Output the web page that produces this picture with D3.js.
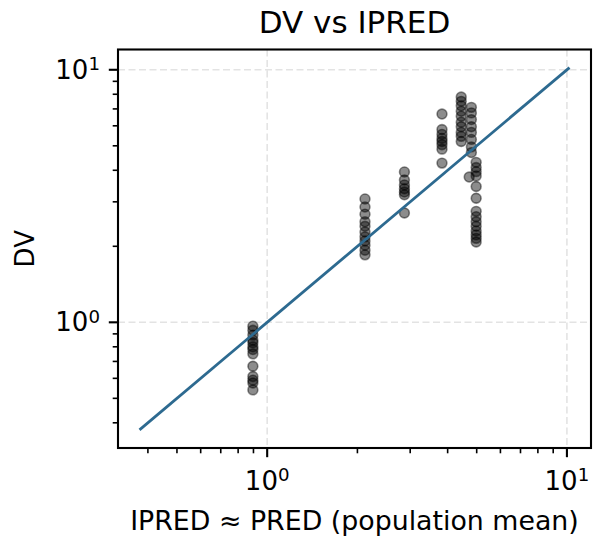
<!DOCTYPE html>
<html>
<head>
<meta charset="utf-8">
<script src="https://cdn.jsdelivr.net/npm/d3@7"></script>
<style>
  body { margin: 0; background: #fff; }
  svg { display: block; font-family: "DejaVu Sans", sans-serif; }
</style>
</head>
<body>
<div id="chart"></div>
<script>
const ipred = [
  0.896, 0.896, 0.896, 0.896, 0.896, 0.896, 0.896, 0.896, 0.896, 0.896, 0.896, 0.896, 0.896,
  2.12, 2.12, 2.12, 2.12, 2.12, 2.12, 2.12, 2.12, 2.12, 2.12, 2.12,
  2.87, 2.87, 2.87, 2.87, 2.87, 2.87, 2.87,
  3.83, 3.83, 3.83, 3.83, 3.83, 3.83, 3.83, 3.83,
  4.44, 4.44, 4.44, 4.44, 4.44, 4.44, 4.44, 4.44, 4.44, 4.44,
  4.80, 4.80, 4.80, 4.80, 4.80, 4.80, 4.80, 4.80, 4.72,
  4.98, 4.98, 4.98, 4.98, 4.98, 4.98, 4.98, 4.98, 4.98, 4.98, 4.98, 4.98, 4.98, 4.98
];
const dv = [
  0.965, 0.93, 0.89, 0.85, 0.83, 0.80, 0.78, 0.75, 0.67, 0.61, 0.59, 0.575, 0.54,
  3.08, 2.86, 2.68, 2.50, 2.40, 2.28, 2.18, 2.10, 2.02, 1.93, 1.85,
  3.94, 3.66, 3.50, 3.38, 3.28, 3.20, 2.71,
  6.68, 5.80, 5.55, 5.35, 5.20, 5.05, 4.85, 4.27,
  7.80, 7.50, 7.20, 6.85, 6.55, 6.20, 5.95, 5.65, 5.45, 5.20,
  7.10, 6.75, 6.35, 5.95, 5.65, 5.30, 4.95, 4.70, 3.76,
  4.30, 4.10, 3.95, 3.80, 3.45, 3.10, 2.75, 2.62, 2.50, 2.40, 2.30, 2.22, 2.15, 2.08
];
// identity reference line end points
const identityLine = [0.375, 10.2];
const majorTicks = [1, 10];
const majorLabels = ["0", "1"];  // exponents of 10

const width = 598, height = 543;
const box = { left: 118, right: 591, top: 49.5, bottom: 448 };

// log domain with matplotlib's 5% margin around the line
const lo = Math.log10(identityLine[0]), hi = Math.log10(identityLine[1]);
const pad = (hi - lo) * 0.05;
const domain = [Math.pow(10, lo - pad), Math.pow(10, hi + pad)];

const x = d3.scaleLog().domain(domain).range([box.left, box.right]);
const y = d3.scaleLog().domain(domain).range([box.bottom, box.top]);

const svg = d3.select("#chart").append("svg")
  .attr("width", width)
  .attr("height", height);

// minor ticks 2..9 x 10^k inside the domain
const minorTicks = [];
for (let k = -1; k <= 1; k++) {
  for (let m = 2; m <= 9; m++) {
    const v = m * Math.pow(10, k);
    if (v >= domain[0] && v <= domain[1]) minorTicks.push(v);
  }
}

// grid
const grid = svg.append("g")
  .attr("stroke", "#b0b0b0")
  .attr("stroke-opacity", 0.35)
  .attr("stroke-width", 1.6)
  .attr("stroke-dasharray", "7,3.5");
grid.selectAll(".gx").data(majorTicks).join("line")
  .attr("x1", d => x(d)).attr("x2", d => x(d))
  .attr("y1", box.top).attr("y2", box.bottom);
grid.selectAll(".gy").data(majorTicks).join("line")
  .attr("y1", d => y(d)).attr("y2", d => y(d))
  .attr("x1", box.left).attr("x2", box.right);

// points
svg.append("g")
  .selectAll("circle")
  .data(ipred.map((v, i) => [v, dv[i]]))
  .join("circle")
  .attr("cx", d => x(d[0]))
  .attr("cy", d => y(d[1]))
  .attr("r", 4.9)
  .attr("fill", "#000")
  .attr("fill-opacity", 0.45)
  .attr("stroke", "#000")
  .attr("stroke-opacity", 0.45)
  .attr("stroke-width", 1.6);

// identity line
svg.append("line")
  .attr("x1", x(identityLine[0])).attr("y1", y(identityLine[0]))
  .attr("x2", x(identityLine[1])).attr("y2", y(identityLine[1]))
  .attr("stroke", "#2d6a90")
  .attr("stroke-width", 2.8);

// frame
svg.append("rect")
  .attr("x", box.left).attr("y", box.top)
  .attr("width", box.right - box.left)
  .attr("height", box.bottom - box.top)
  .attr("fill", "none")
  .attr("stroke", "#000")
  .attr("stroke-width", 2.1);

// ticks
const tk = svg.append("g").attr("stroke", "#000");
tk.selectAll(".xmaj").data(majorTicks).join("line")
  .attr("x1", d => x(d)).attr("x2", d => x(d))
  .attr("y1", box.bottom).attr("y2", box.bottom + 9.2)
  .attr("stroke-width", 2.1);
tk.selectAll(".xmin").data(minorTicks).join("line")
  .attr("x1", d => x(d)).attr("x2", d => x(d))
  .attr("y1", box.bottom).attr("y2", box.bottom + 5.3)
  .attr("stroke-width", 1.6);
tk.selectAll(".ymaj").data(majorTicks).join("line")
  .attr("y1", d => y(d)).attr("y2", d => y(d))
  .attr("x1", box.left).attr("x2", box.left - 9.2)
  .attr("stroke-width", 2.1);
tk.selectAll(".ymin").data(minorTicks).join("line")
  .attr("y1", d => y(d)).attr("y2", d => y(d))
  .attr("x1", box.left).attr("x2", box.left - 5.3)
  .attr("stroke-width", 1.6);

// tick labels (10 with superscript exponent)
function powLabel(sel) {
  sel.text("10")
    .append("tspan")
    .attr("dy", "-0.48em")
    .attr("font-size", "0.7em")
    .text((d, i) => majorLabels[i]);
}
svg.selectAll(".xl").data(majorTicks).join("text")
  .attr("x", d => x(d))
  .attr("y", box.bottom + 42)
  .attr("text-anchor", "middle")
  .attr("font-size", 26)
  .call(powLabel);
svg.selectAll(".yl").data(majorTicks).join("text")
  .attr("x", box.left - 18)
  .attr("y", d => y(d) + 9)
  .attr("text-anchor", "end")
  .attr("font-size", 26)
  .call(powLabel);

// axis titles
svg.append("text")
  .attr("x", (box.left + box.right) / 2)
  .attr("y", 530)
  .attr("text-anchor", "middle")
  .attr("font-size", 26.8)
  .text("IPRED \u2248 PRED (population mean)");
svg.append("text")
  .attr("transform", `translate(34,${(box.top + box.bottom) / 2}) rotate(-90)`)
  .attr("text-anchor", "middle")
  .attr("font-size", 26)
  .text("DV");
svg.append("text")
  .attr("x", (box.left + box.right) / 2)
  .attr("y", 33)
  .attr("text-anchor", "middle")
  .attr("font-size", 31)
  .text("DV vs IPRED");
</script>
</body>
</html>
